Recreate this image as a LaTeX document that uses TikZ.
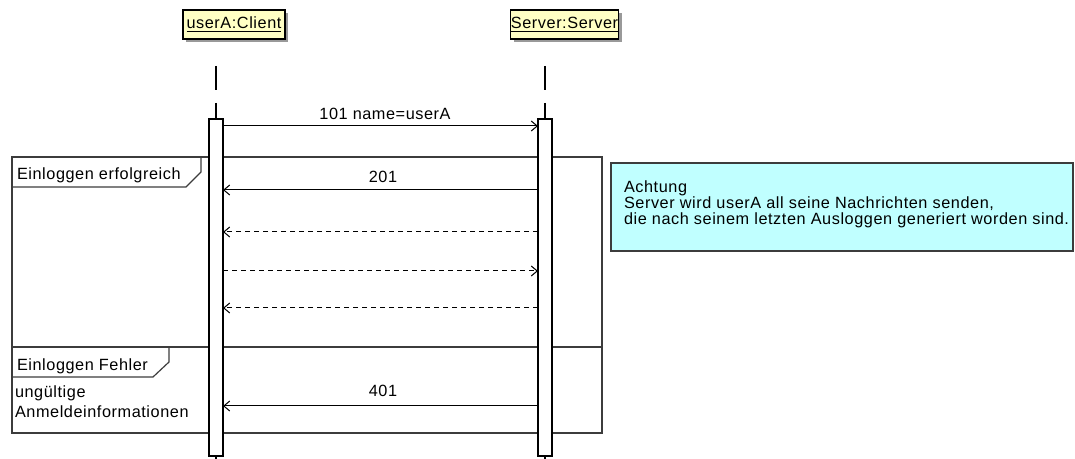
\documentclass[tikz,border=0pt]{standalone}
\usepackage{fontspec}
\setmainfont{Liberation Sans}[LetterSpace=3.5]
\usetikzlibrary{arrows.meta,shadows}
\definecolor{headfill}{RGB}{255,255,196}
\definecolor{notefill}{RGB}{192,255,255}
\definecolor{framegray}{RGB}{60,60,60}
\begin{document}
\begin{tikzpicture}[x=0.75pt,y=-0.75pt,
  every node/.style={font=\fontsize{12.2}{13}\selectfont, inner sep=0pt, outer sep=0pt},
  headbox/.style={draw=black, fill=headfill, line width=0.8pt, minimum height=21.75pt,
    drop shadow={shadow xshift=2.6pt, shadow yshift=-2.6pt, fill=black!40, opacity=1}},
  actbox/.style={draw=black, fill=white, line width=0.8pt, minimum width=10.5pt, minimum height=252.75pt},
  lifeline/.style={draw=black, line width=0.8pt, dash pattern=on 18pt off 9.75pt},
  msg/.style={draw=black, line width=0.75pt, -{Straight Barb[length=4.5pt,width=7.5pt]}},
  reply/.style={msg, dash pattern=on 3.75pt off 3pt},
  framebox/.style={draw=framegray, line width=0.9pt},
  notebox/.style={draw=framegray, fill=notefill, line width=0.9pt, minimum width=346.5pt, minimum height=66pt},
  txt/.style={anchor=base west},
  lbl/.style={anchor=base}
]
\useasboundingbox (0,0) rectangle (1075,459);

% combined fragment with its two operands
\node[framebox, minimum width=442.5pt, minimum height=207pt] (alt) at (307,295) {};
\coordinate (div) at (0,347);
\draw[framebox] (alt.west |- div) -- (alt.east |- div);
\draw[framebox] (12,157) -- (201,157) -- (201,172) -- (186,187) -- (12,187);
\node[txt] (op1) at (17,180) {Einloggen erfolgreich};
\draw[framebox] (12,347) -- (169,347) -- (169,362) -- (153,377) -- (12,377);
\node[txt] (op2) at (17,371) {Einloggen Fehler};
\node[txt] (guard1) at (15,398) {ungültige};
\node[txt] (guard2) at (15,418) {Anmeldeinformationen};

% participants
\node[headbox, minimum width=76.5pt] (client) at (234,24.5) {\underline{userA:Client}};
\node[headbox, minimum width=78.75pt] (server) at (564.5,24.5) {\underline{Server:Server}};

% lifelines and activations
\coordinate (clTop) at (216,66);
\coordinate (clBot) at (216,459);
\coordinate (svTop) at (545,66);
\coordinate (svBot) at (545,459);
\node[actbox] (actC) at (216,287.5) {};
\node[actbox] (actS) at (545,287.5) {};
\draw[lifeline] (clTop) -- (actC.north);
\draw[lifeline] (svTop) -- (actS.north);
\draw[line width=0.8pt] (actC.south) -- (clBot);
\draw[line width=0.8pt] (actS.south) -- (svBot);

% messages
\coordinate (m1) at (0,126);
\coordinate (m2) at (0,190);
\coordinate (m3) at (0,232);
\coordinate (m4) at (0,271);
\coordinate (m5) at (0,308);
\coordinate (m6) at (0,406);
\draw[msg] (actC.east |- m1) -- (actS.west |- m1);
\node[lbl] (l1) at (385,120) {101 name=userA};
\draw[msg] (actS.west |- m2) -- (actC.east |- m2);
\node[lbl] (l2) at (383,183) {201};
\draw[reply] (actS.west |- m3) -- (actC.east |- m3);
\draw[reply] (actC.east |- m4) -- (actS.west |- m4);
\draw[reply] (actS.west |- m5) -- (actC.east |- m5);
\draw[msg] (actS.west |- m6) -- (actC.east |- m6);
\node[lbl] (l6) at (383,397) {401};

% note
\node[notebox] (note) at (842,207) {};
\node[txt] (n1) at (624,193) {Achtung};
\node[txt] (n2) at (624,209) {Server wird userA all seine Nachrichten senden,};
\node[txt] (n3) at (624,225) {die nach seinem letzten Ausloggen generiert worden sind.};
\end{tikzpicture}
\end{document}
